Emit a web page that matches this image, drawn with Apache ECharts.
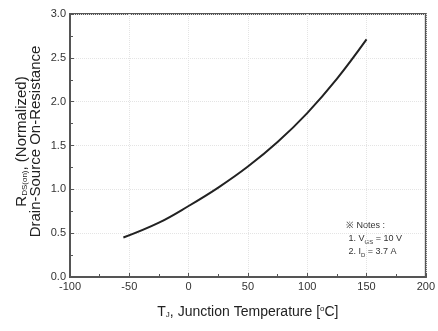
<!DOCTYPE html>
<html><head><meta charset="utf-8">
<script src="https://cdn.jsdelivr.net/npm/echarts@6/dist/echarts.min.js"></script>
<style>html,body{margin:0;padding:0;background:#fff}#c{width:438px;height:331px}</style>
</head><body><div id="c"></div>
<script>
const temps = [-55, -25, 0, 25, 50, 75, 100, 125, 150];
const rdson = [0.45, 0.62, 0.81, 1.02, 1.26, 1.54, 1.87, 2.26, 2.71];
const xTicks = [-100, -50, 0, 50, 100, 150, 200];
const yTicks = [0.0, 0.5, 1.0, 1.5, 2.0, 2.5, 3.0];
const notes = ['※ Notes :', ' 1. V{s|GS} = 10 V', ' 2. I{s|D} = 3.7 A'];

const font = 'Liberation Sans, Arial, sans-serif';
const chart = echarts.init(document.getElementById('c'));
chart.setOption({
  animation: false,
  grid: { left: 70, top: 14, right: 10, bottom: 54, show: true, borderColor: '#555', borderWidth: 2, backgroundColor: 'transparent' },
  xAxis: {
    type: 'value', min: xTicks[0], max: xTicks[xTicks.length - 1], interval: 50,
    name: '{m|T}{s|J}{m|, Junction Temperature [}{sup|o}{m|C]}', nameLocation: 'middle', nameGap: 28,
    nameTextStyle: { rich: {
      m: { fontFamily: font, fontSize: 14, color: '#222' },
      s: { fontFamily: font, fontSize: 8, color: '#222', verticalAlign: 'bottom', padding: [6, 0, 0, 0] },
      sup: { fontFamily: font, fontSize: 8, color: '#222', verticalAlign: 'top', padding: [0, 0, 6, 0] }
    } },
    axisLine: { show: true, onZero: false, lineStyle: { color: '#555', width: 2 } },
    axisTick: { show: true, inside: true, length: 4, lineStyle: { color: '#555' } },
    minorTick: { show: true, splitNumber: 2, length: 3, lineStyle: { color: '#555' } },
    axisLabel: { fontFamily: font, fontSize: 11, color: '#333', margin: 4 },
    splitLine: { show: true, lineStyle: { color: '#e4e4e4', type: 'dotted', width: 1 } }
  },
  yAxis: {
    type: 'value', min: yTicks[0], max: yTicks[yTicks.length - 1], interval: 0.5,
    name: '{m|R}{s|DS(on)}{m|, (Normalized)}\n{m|Drain-Source On-Resistance}', nameLocation: 'middle', nameGap: 27,
    nameMoveOverlap: false,
    nameRotate: 90,
    nameTextStyle: { lineHeight: 14, padding: [0, 0, 0, 8], rich: {
      m: { fontFamily: font, fontSize: 15, color: '#222', lineHeight: 14 },
      s: { fontFamily: font, fontSize: 8, color: '#222', verticalAlign: 'bottom', padding: [6, 0, 0, 0], lineHeight: 14 }
    } },
    axisLine: { show: true, onZero: false, lineStyle: { color: '#555', width: 2 } },
    axisTick: { show: true, inside: true, length: 4, lineStyle: { color: '#555' } },
    minorTick: { show: true, splitNumber: 2, length: 3, lineStyle: { color: '#555' } },
    axisLabel: { fontFamily: font, fontSize: 11, color: '#333', margin: 4, formatter: v => v.toFixed(1) },
    splitLine: { show: true, lineStyle: { color: '#e4e4e4', type: 'dotted', width: 1 } }
  },
  graphic: [{
    type: 'text', left: 346, top: 219,
    style: {
      text: notes.join('\n'),
      rich: { s: { fontSize: 6, fontFamily: font, fill: '#333', verticalAlign: 'bottom', padding: [4, 0, 0, 0] } },
      font: '9px ' + font, fill: '#333', lineHeight: 13
    }
  }],
  series: [{
    type: 'line', smooth: 0.4, symbol: 'none',
    data: temps.map((t, i) => [t, rdson[i]]),
    lineStyle: { color: '#222', width: 2 }
  }]
});
</script></body></html>
